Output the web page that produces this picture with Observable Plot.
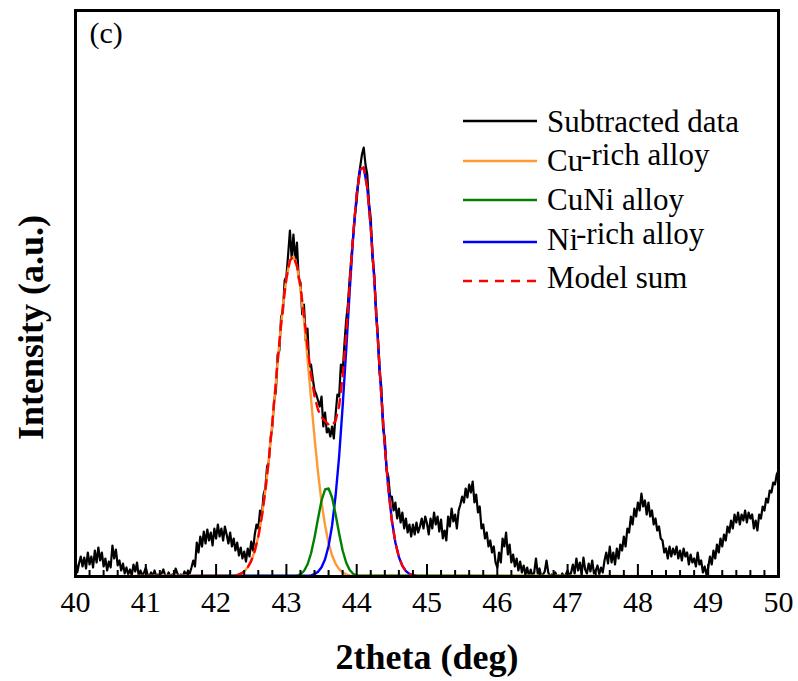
<!DOCTYPE html>
<html>
<head>
<meta charset="utf-8">
<script src="https://cdn.jsdelivr.net/npm/d3@7"></script>
<script src="https://cdn.jsdelivr.net/npm/@observablehq/plot@0.6"></script>
<style>
  body { margin: 0; background: #fff; }
  #chart { position: relative; width: 798px; height: 681px; }
</style>
</head>
<body>
<div id="chart"></div>
<script>
// ---------- data ----------
const xStart = 40, xEnd = 50, dataStep = 0.025;   // subtracted data sampling
// Subtracted data, one row per degree (40 samples each)
const row40 = [16,4,13,20,10,19,8,24,12,20,9,26,14,29,16,24,10,18,6,15,9,31,18,27,11,16,6,13,3,9,2,7,1,12,5,14,0,6,1,4];
const row41 = [9,2,0,4,1,6,0,2,0,3,7,1,0,4,0,2,0,8,3,0,2,0,5,1,6,3,9,16,10,34,24,40,30,45,33,47,36,44,31,48];
const row42 = [38,52,40,48,36,50,42,33,44,30,38,26,34,21,29,18,25,15,28,20,35,26,42,52,48,66,60,82,88,110,115,138,150,176,185,222,226,260,264,296];
const row43 = [300,322,346,318,342,316,334,298,294,262,272,236,248,210,212,198,186,182,176,170,180,150,164,144,148,140,150,138,162,182,180,212,204,232,256,272,298,320,340,362];
const row44 = [376,398,410,422,429,412,402,374,358,318,302,262,242,204,190,148,138,106,100,80,80,66,74,58,68,54,64,48,58,44,52,40,52,42,54,44,50,58,48,60];
const row45 = [53,42,58,48,64,52,60,45,57,38,46,36,60,50,68,55,62,48,66,72,80,74,88,79,92,84,95,74,82,64,70,48,52,38,44,30,36,24,30,14];
const row46 = [9,24,14,38,30,44,22,32,14,22,10,18,6,15,4,11,2,9,0,7,0,4,18,3,8,0,2,5,16,4,0,2,0,4,0,1,0,3,0,2];
const row47 = [6,0,4,12,3,18,6,14,2,19,7,3,13,5,16,3,6,11,2,9,4,16,24,13,30,14,24,12,28,18,32,26,40,30,48,44,60,52,68,60];
const row48 = [74,66,83,70,76,62,74,60,66,52,58,46,50,38,36,24,28,18,30,20,28,22,30,18,26,16,28,20,24,12,22,14,18,10,24,12,16,4,10,2];
const row49 = [9,20,12,26,18,32,24,38,30,42,36,50,44,56,48,62,54,64,52,62,56,66,54,64,58,62,48,56,46,62,58,70,66,78,74,86,84,94,92,102];
const row50 = [106];

// Fitted components, sampled every 0.05 deg from their start position
const compStep = 0.05;
const cuRichStart = 42.30;
const cuRichVals = [1.4,2.8,5.1,9.1,15.6,25.5,39.8,59.6,85.5,117,154,194,234,270,298,316,320,310,288,256,218,178,139,104,74,51,33.5,21,12.7,7.3,4.0,2.1,1.1];
const cuNiStart = 43.15;
const cuNiVals = [0.8,2.2,5.5,12,23,39,58,76,87,88,79,62,43,26,14,6.5,2.7,1.0];
const niRichStart = 43.35;
const niRichVals = [1.0,2.3,4.7,9.3,17.3,30.5,51,81,120,170,226,285,340,382,407,409,389,349,297,238,181,130,88,56,34,19.5,10.6,5.4,2.6,1.2,0.5];

const majorTicks = [40,41,42,43,44,45,46,47,48,49,50];
const legendLabels = ["Subtracted data", "Cu-rich alloy", "CuNi alloy", "Ni-rich alloy", "Model sum"];
const legendColors = ["#000000", "#ff9933", "#008000", "#0000ff", "#ff0000"];
const xLabel = "2theta (deg)";
const yLabel = "Intensity (a.u.)";
const panelLabel = "(c)";

// ---------- derived tables ----------
const subtracted = [].concat(row40,row41,row42,row43,row44,row45,row46,row47,row48,row49,row50);
const dataPts = subtracted.map((v, i) => ({x: xStart + i * dataStep, y: v}));

function compSeries(start, vals) {
  return [{x: xStart, y: 0}, ...vals.map((v, i) => ({x: start + i * compStep, y: v})), {x: xEnd, y: 0}];
}
function lookup(start, vals, x) {
  const i = Math.round((x - start) / compStep);
  return (i >= 0 && i < vals.length) ? vals[i] : 0;
}
const cuRich = compSeries(cuRichStart, cuRichVals);
const cuNi = compSeries(cuNiStart, cuNiVals);
const niRich = compSeries(niRichStart, niRichVals);
const grid = d3.range(0, Math.round((xEnd - xStart) / compStep) + 1).map(i => xStart + i * compStep);
const modelSum = grid.map(x => ({x, y: lookup(cuRichStart, cuRichVals, x) + lookup(cuNiStart, cuNiVals, x) + lookup(niRichStart, niRichVals, x)}));
const minorTicks = d3.range(1, 50).filter(i => i % 5 !== 0).map(i => xStart + i * 0.2);

const serif = '"Liberation Serif", "Times New Roman", serif';
const W = 798, H = 681, mL = 75, mR = 20, mT = 10, mB = 105;
const plotH = H - mT - mB;
const yMax = 566;
const px = yMax / plotH;          // data units per pixel on the y scale

const chart = Plot.plot({
  width: W,
  height: H,
  marginLeft: mL,
  marginRight: mR,
  marginTop: mT,
  marginBottom: mB,
  style: {fontFamily: serif, background: "#fff", color: "#000"},
  x: {domain: [40, 50], axis: null, label: null},
  y: {domain: [0, yMax], axis: null, label: null},
  marks: [
    Plot.line(dataPts, {x: "x", y: "y", stroke: legendColors[0], strokeWidth: 2.2, clip: true}),
    Plot.line(cuRich, {x: "x", y: "y", stroke: legendColors[1], strokeWidth: 2.4}),
    Plot.line(niRich, {x: "x", y: "y", stroke: legendColors[3], strokeWidth: 2.4}),
    Plot.line(cuNi, {x: "x", y: "y", stroke: legendColors[2], strokeWidth: 2.4}),
    Plot.line(modelSum, {x: "x", y: "y", stroke: legendColors[4], strokeWidth: 2.4, strokeDasharray: "9,7"}),
    // inward tick marks on the bottom axis (minor every 0.2, major every 1)
    Plot.ruleX(minorTicks, {x: d => d, y1: 0, y2: 6 * px, stroke: "#000", strokeWidth: 2}),
    Plot.ruleX(majorTicks, {x: d => d, y1: 0, y2: 12 * px, stroke: "#000", strokeWidth: 2}),
    Plot.axisX({ticks: majorTicks, tickSize: 0, tickPadding: 14, fontSize: 30, tickFormat: d => String(d), label: null}),
    Plot.frame({stroke: "#000", strokeWidth: 3}),
    Plot.text([yLabel], {frameAnchor: "left", rotate: -90, dx: -44, dy: 34, fontSize: 36, fontWeight: "bold", textAnchor: "middle", lineAnchor: "middle", fill: "#000"}),
    Plot.text([xLabel], {frameAnchor: "bottom", dy: 81, fontSize: 36, fontWeight: "bold", textAnchor: "middle", lineAnchor: "middle", fill: "#000"}),
    Plot.text([panelLabel], {frameAnchor: "top-left", dx: 14, dy: 23, fontSize: 30, textAnchor: "start", lineAnchor: "middle", fill: "#000"})
  ]
});

document.getElementById("chart").appendChild(chart);

// ---------- legend (inside the plot area, top right) ----------
const svg = d3.select(chart);
const lg = svg.append("g")
  .attr("font-family", serif).attr("font-size", 31).attr("fill", "#000")
  .attr("text-anchor", "start");
const legendLineY = [121, 161, 200, 242, 281];
const legendTextY = [132, 171, 210, 250, 288];
legendLabels.forEach((label, i) => {
  lg.append("line")
    .attr("x1", 463).attr("x2", 537)
    .attr("y1", legendLineY[i]).attr("y2", legendLineY[i])
    .attr("stroke", legendColors[i]).attr("stroke-width", 2.5)
    .attr("stroke-dasharray", i === 4 ? "9,7" : null);
  const t = lg.append("text").attr("x", 547).attr("y", legendTextY[i]).attr("text-anchor", "start");
  const k = label.indexOf("-");
  if (k > 0) {
    t.append("tspan").text(label.slice(0, k));
    t.append("tspan").attr("dx", -2).attr("dy", -6).text(label.slice(k));
  } else {
    t.text(label);
  }
});
</script>
</body>
</html>
